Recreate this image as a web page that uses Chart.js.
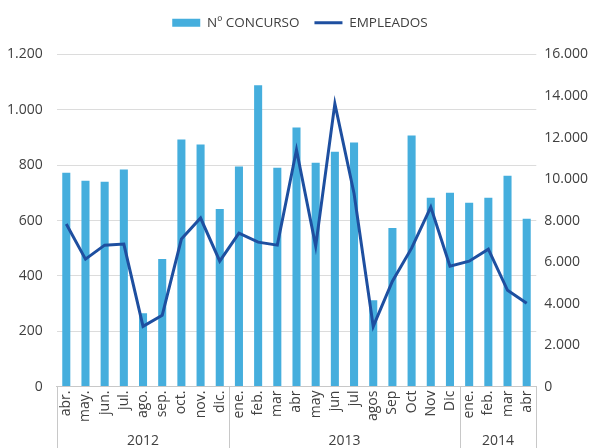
<!DOCTYPE html>
<html>
<head>
<meta charset="utf-8">
<script src="https://cdn.jsdelivr.net/npm/chart.js@4.4.1/dist/chart.umd.min.js"></script>
<style>
html,body{margin:0;padding:0;background:#fff;}
#wrap{width:598px;height:448px;position:relative;}
</style>
</head>
<body>
<div id="wrap"><canvas id="chart"></canvas></div>
<script>
// Data
const months = ['abr.','may.','jun.','jul.','ago.','sep.','oct.','nov.','dic.',
    'ene.','feb.','mar','abr','may','jun','jul','agos','Sep','Oct','Nov','Dic',
    'ene.','feb.','mar','abr'];
const years = ['2012','2013','2014'];
const yearSpans = [9,12,4];
const concurso = [773,744,740,784,265,461,893,875,642,
    795,1089,791,936,809,849,882,312,573,907,682,700,
    664,682,762,606];
const empleados = [7830,6140,6815,6864,2900,3432,7106,8120,6042,
    7396,6960,6815,11408,6767,13631,9300,2900,5075,6670,8652,5800,
    6042,6622,4640,4012];
const leftTicks = [0,200,400,600,800,1000,1200];
const rightTicks = [0,2000,4000,6000,8000,10000,12000,14000,16000];

const FONT = '"Open Sans", "Noto Sans", sans-serif';
const TEXT = '#404040';

function fmt(v){return String(v).replace(/\B(?=(\d{3})+(?!\d))/g,'.');}

// extra room under the legend
const legendGap = {
    id:'legendGap',
    beforeInit(chart){
        const fit = chart.legend.fit;
        chart.legend.fit = function(){ fit.bind(chart.legend)(); this.height += 15; };
    }
};

// year groups under the month labels
const yearAxis = {
    id:'yearAxis',
    afterDraw(chart){
        const xs = chart.scales.x, ctx = chart.ctx;
        const top = chart.chartArea.bottom, bottom = chart.height;
        const edges = [0];
        yearSpans.forEach(n => edges.push(edges[edges.length-1] + n));
        ctx.save();
        ctx.strokeStyle = '#c8c8c8'; ctx.lineWidth = 1;
        edges.forEach(i => {
            const px = Math.round(xs.getPixelForValue(i - 0.5)) + 0.5;
            ctx.beginPath(); ctx.moveTo(px, top); ctx.lineTo(px, bottom); ctx.stroke();
        });
        ctx.fillStyle = TEXT; ctx.font = '14px ' + FONT;
        ctx.textAlign = 'center'; ctx.textBaseline = 'middle';
        years.forEach((y,k) => {
            const c = (edges[k] + edges[k+1] - 1) / 2;
            ctx.fillText(y, xs.getPixelForValue(c), bottom - 7);
        });
        ctx.restore();
    }
};

new Chart(document.getElementById('chart').getContext('2d'), {
    type:'bar',
    data:{
        labels:months,
        datasets:[
            {label:'Nº CONCURSO',data:concurso,backgroundColor:'#45AEDD',yAxisID:'y',order:1,
             barPercentage:0.5,categoryPercentage:0.84,pointStyle:'rect'},
            {type:'line',label:'EMPLEADOS',data:empleados,borderColor:'#1E4FA0',backgroundColor:'#1E4FA0',
             borderWidth:3,pointRadius:0,tension:0,yAxisID:'y1',order:0,pointStyle:'line'}
        ]
    },
    options:{
        responsive:true,maintainAspectRatio:false,animation:false,
        layout:{padding:{top:1,left:4,right:2,bottom:22}},
        plugins:{
            tooltip:{enabled:false},
            legend:{position:'top',labels:{color:TEXT,font:{family:FONT,size:13.5},usePointStyle:true,
                pointStyleWidth:28,boxHeight:8,padding:15,sort:(a,b)=>a.datasetIndex-b.datasetIndex}}
        },
        scales:{
            x:{grid:{drawOnChartArea:false,drawTicks:false},border:{color:'#c8c8c8'},
               ticks:{color:TEXT,font:{family:FONT,size:14},maxRotation:90,minRotation:90,padding:4,autoSkip:false}},
            y:{position:'left',min:0,max:1200,afterBuildTicks:s=>{s.ticks=leftTicks.map(v=>({value:v}));},
               afterFit:s=>{s.width-=11;},
               grid:{color:'#dcdcdc',lineWidth:1,drawTicks:false},border:{display:false},
               ticks:{color:TEXT,font:{family:FONT,size:14},padding:14,callback:v=>fmt(v)}},
            y1:{position:'right',min:0,max:16000,afterBuildTicks:s=>{s.ticks=rightTicks.map(v=>({value:v}));},
               grid:{drawOnChartArea:false,drawTicks:false},border:{display:false},
               ticks:{color:TEXT,font:{family:FONT,size:14},padding:8,callback:v=>fmt(v)}}
        }
    },
    plugins:[legendGap,yearAxis]
});
</script>
</body>
</html>
